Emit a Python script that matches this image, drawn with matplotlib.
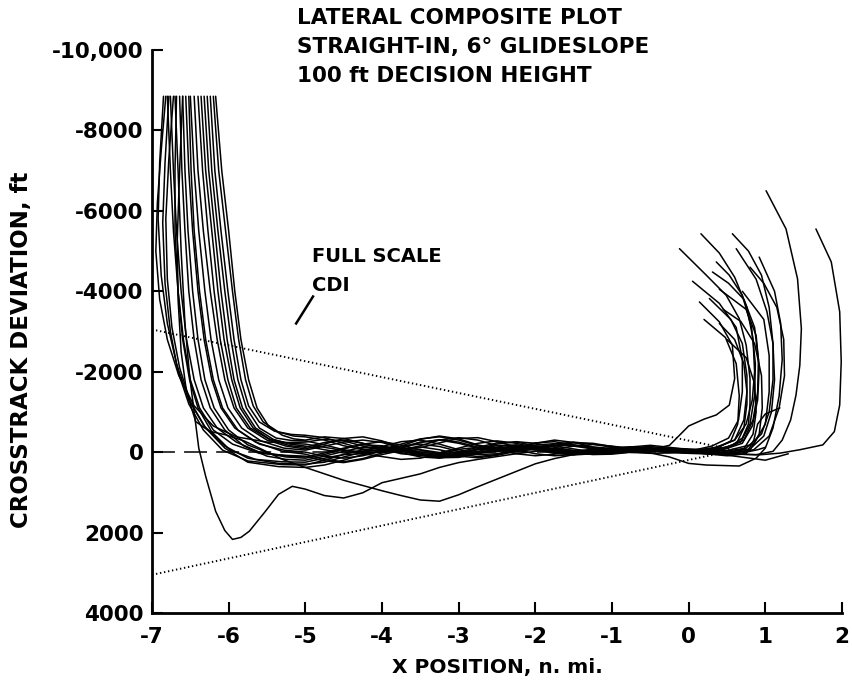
import matplotlib
matplotlib.use("Agg")
import matplotlib.pyplot as plt

# ---------------- data ----------------
x_ticks = [-7, -6, -5, -4, -3, -2, -1, 0, 1, 2]
x_tick_labels = ["-7", "-6", "-5", "-4", "-3", "-2", "-1", "0", "1", "2"]
y_ticks = [-10000, -8000, -6000, -4000, -2000, 0, 2000, 4000]
y_tick_labels = ["-10,000", "-8000", "-6000", "-4000", "-2000", "0", "2000", "4000"]

title_lines = ["LATERAL COMPOSITE PLOT", "STRAIGHT-IN, 6\u00b0 GLIDESLOPE", "100 ft DECISION HEIGHT"]

# full-scale CDI limits (x, y)
cdi_upper = [(-7.0, -3050), (0.6, -50)]
cdi_lower = [(-7.0, 3050), (0.6, -50)]
centerline = [(-7.0, 0), (0.6, 0)]
leader = [(-5.12, -3200), (-4.90, -3870)]

# common x grid of the tracking segment (n. mi.)
mid_x = [-5.0, -4.75, -4.5, -4.25, -4.0, -3.75, -3.5, -3.25, -3.0, -2.75, -2.5,
         -2.25, -2.0, -1.75, -1.5, -1.25, -1.0, -0.75, -0.5, -0.25, 0.0]

# ---- intercept (left) segments ----
left_01 = [(-6.82,-8850),(-6.88,-7500),(-6.93,-6200),(-6.95,-5000),(-6.90,-3800),(-6.80,-2800),(-6.65,-1900),(-6.45,-1150),(-6.20,-650),(-5.90,-380),(-5.50,-250),(-5.20,-240)]
left_02 = [(-6.70,-8850),(-6.66,-7000),(-6.62,-5000),(-6.57,-3200),(-6.51,-1900),(-6.45,-1000),(-6.39,-100),(-6.30,600),(-6.17,1470),(-6.05,1950),(-5.95,2170),(-5.84,2120),(-5.73,1965),(-5.52,1470),(-5.35,1050),(-5.17,850)]
left_03 = [(-6.60,-8850),(-6.64,-7000),(-6.67,-5300),(-6.66,-3800),(-6.62,-2500),(-6.55,-1500),(-6.43,-760),(-6.25,-520),(-6.04,-430),(-5.80,-280),(-5.60,-100),(-5.30,180),(-5.15,280)]
left_04 = [(-6.76,-8850),(-6.72,-7000),(-6.68,-5500),(-6.62,-4000),(-6.55,-2800),(-6.45,-1800),(-6.33,-1100),(-6.15,-600),(-5.90,-250),(-5.60,0),(-5.25,120)]
left_05 = [(-6.45,-8850),(-6.40,-7000),(-6.33,-5500),(-6.24,-4000),(-6.15,-2800),(-6.05,-1800),(-5.93,-1100),(-5.75,-600),(-5.50,-300),(-5.25,-150)]
left_06 = [(-6.85,-8850),(-6.90,-7200),(-6.92,-5800),(-6.88,-4400),(-6.80,-3200),(-6.68,-2200),(-6.52,-1300),(-6.32,-650),(-6.05,-150),(-5.75,150),(-5.35,280)]
left_07 = [(-6.20,-8850),(-6.13,-7000),(-6.04,-5500),(-5.95,-4000),(-5.87,-2800),(-5.78,-1800),(-5.68,-1150),(-5.55,-750),(-5.35,-500),(-5.15,-400)]
left_08 = [(-6.56,-8850),(-6.52,-7000),(-6.47,-5500),(-6.40,-4000),(-6.32,-2800),(-6.22,-1800),(-6.10,-1100),(-5.92,-600),(-5.65,-250),(-5.30,-20)]
left_09 = [(-6.32,-8850),(-6.26,-7000),(-6.18,-5500),(-6.10,-4000),(-6.02,-2800),(-5.93,-1800),(-5.82,-1100),(-5.65,-600),(-5.42,-320),(-5.20,-200)]
left_10 = [(-6.64,-8850),(-6.61,-7000),(-6.57,-5500),(-6.52,-4000),(-6.45,-2800),(-6.36,-1800),(-6.24,-1100),(-6.05,-550),(-5.80,-150),(-5.50,100),(-5.25,180)]
left_11 = [(-6.17,-8850),(-6.09,-7000),(-6.00,-5500),(-5.92,-4000),(-5.84,-2800),(-5.74,-1800),(-5.63,-1100),(-5.48,-650),(-5.30,-420),(-5.15,-330)]
left_12 = [(-6.80,-8850),(-6.76,-7000),(-6.72,-5500),(-6.66,-4000),(-6.59,-2800),(-6.50,-1800),(-6.38,-1100),(-6.20,-550),(-5.95,-200),(-5.60,30),(-5.25,80)]
left_13 = [(-6.40,-8850),(-6.34,-7000),(-6.27,-5500),(-6.19,-4000),(-6.11,-2800),(-6.01,-1800),(-5.90,-1100),(-5.72,-600),(-5.48,-330),(-5.22,-220)]
left_14 = [(-6.72,-8850),(-6.78,-7300),(-6.82,-5800),(-6.80,-4300),(-6.74,-3100),(-6.64,-2100),(-6.50,-1250),(-6.30,-600),(-6.05,-100),(-5.75,250),(-5.35,360)]
left_15 = [(-6.50,-8850),(-6.45,-7000),(-6.39,-5500),(-6.31,-4000),(-6.23,-2800),(-6.13,-1800),(-6.01,-1100),(-5.83,-600),(-5.58,-280),(-5.28,-100)]
left_16 = [(-6.68,-8850),(-6.70,-7000),(-6.70,-5500),(-6.66,-4000),(-6.60,-2800),(-6.51,-1800),(-6.40,-1100),(-6.22,-500),(-5.98,-50),(-5.65,180),(-5.30,240)]
left_17 = [(-6.24,-8850),(-6.18,-7000),(-6.10,-5500),(-6.01,-4000),(-5.93,-2800),(-5.84,-1800),(-5.74,-1150),(-5.60,-750),(-5.40,-520),(-5.18,-440)]
left_18 = [(-6.52,-8850),(-6.49,-7000),(-6.45,-5500),(-6.38,-4000),(-6.30,-2800),(-6.20,-1800),(-6.08,-1100),(-5.88,-550),(-5.60,-200),(-5.28,-50)]
left_19 = [(-6.36,-8850),(-6.30,-7000),(-6.22,-5500),(-6.14,-4000),(-6.06,-2800),(-5.96,-1800),(-5.85,-1100),(-5.68,-600),(-5.45,-300),(-5.20,-160)]
left_20 = [(-6.78,-8850),(-6.83,-7200),(-6.86,-5700),(-6.83,-4200),(-6.76,-3000),(-6.66,-2000),(-6.52,-1200),(-6.33,-550),(-6.08,-50),(-5.75,220),(-5.30,310)]
left_21 = [(-6.28,-8850),(-6.22,-7000),(-6.14,-5500),(-6.05,-4000),(-5.97,-2800),(-5.88,-1800),(-5.77,-1100),(-5.60,-600),(-5.38,-350),(-5.18,-290)]
left_22 = [(-6.60,-8850),(-6.57,-7000),(-6.53,-5500),(-6.47,-4000),(-6.40,-2800),(-6.31,-1800),(-6.19,-1100),(-6.00,-550),(-5.75,-180),(-5.45,40),(-5.22,100)]

# ---- tracking (middle) segments: crosstrack ft at mid_x ----
mid_01 = [-250,-320,-280,-150,-60,-120,-250,-300,-220,-100,-40,-90,-180,-210,-150,-80,-60,-110,-140,-90,-50]
mid_02 = [920,1080,1140,1010,760,650,540,380,260,180,110,40,-20,-60,-40,10,30,0,-30,-20,0]
mid_03 = [380,540,700,830,960,1080,1190,1220,1060,860,670,480,290,160,60,10,-10,-40,-40,-10,10]
mid_04 = [150,60,-80,-200,-260,-180,-50,40,80,20,-90,-170,-150,-60,10,30,-20,-80,-90,-40,0]
mid_05 = [-80,-200,-340,-380,-280,-120,0,60,0,-120,-230,-250,-160,-50,0,-30,-100,-130,-80,-30,10]
mid_06 = [300,250,120,0,-60,10,120,150,60,-60,-120,-60,40,90,60,0,-30,-10,30,20,-20]
mid_07 = [-380,-300,-160,-60,-40,-150,-320,-400,-330,-180,-80,-100,-220,-300,-240,-130,-90,-130,-170,-120,-60]
mid_08 = [50,180,240,160,20,-90,-130,-60,50,110,60,-50,-120,-90,-10,40,20,-40,-60,-30,-10]
mid_09 = [-150,-60,20,-20,-140,-260,-300,-200,-60,20,-10,-120,-230,-260,-180,-90,-50,-70,-100,-80,-40]
mid_10 = [200,100,-20,-120,-120,-30,80,120,40,-80,-160,-180,-90,0,40,10,-40,-70,-50,-10,20]
mid_11 = [-300,-380,-340,-220,-100,-60,-110,-230,-340,-360,-260,-130,-60,-80,-150,-190,-150,-90,-60,-170,-650]
mid_12 = [100,220,260,180,60,-40,-60,10,100,140,80,-20,-80,-60,10,60,50,0,-30,-20,0]
mid_13 = [-200,-120,-40,-10,-70,-200,-330,-380,-300,-160,-60,-40,-100,-200,-250,-200,-120,-80,-90,-70,-50]
mid_14 = [380,320,200,60,-30,-20,60,140,130,40,-60,-110,-80,0,50,40,-10,-40,-30,0,30]
mid_15 = [-50,-150,-250,-300,-240,-100,40,90,30,-80,-200,-260,-220,-120,-40,-20,-60,-110,-110,-60,-20]
mid_16 = [250,150,60,40,110,180,150,40,-70,-120,-60,40,90,50,-30,-70,-40,10,20,120,280]
mid_17 = [-420,-360,-220,-80,0,-40,-160,-300,-360,-300,-160,-60,-60,-150,-230,-220,-140,-80,-80,-100,-80]
mid_18 = [0,100,150,90,-30,-150,-200,-140,-20,60,40,-60,-150,-160,-80,0,20,-20,-50,-40,-10]
mid_19 = [-120,-240,-300,-220,-80,40,80,20,-100,-220,-280,-220,-110,-20,0,-50,-110,-120,-70,-20,0]
mid_20 = [320,200,60,-60,-120,-80,30,100,80,-20,-110,-130,-60,30,70,40,-20,-50,-30,10,20]
mid_21 = [-280,-180,-60,20,0,-100,-240,-310,-250,-120,-30,-20,-90,-170,-180,-120,-60,-50,-80,-70,-40]
mid_22 = [120,20,-100,-180,-160,-60,60,130,110,20,-80,-140,-120,-40,30,50,10,-40,-50,-20,10]

# ---- missed approach (right) segments ----
right_01 = [(0.25,10),(0.55,40),(0.88,65),(1.10,-20),(1.22,-300),(1.33,-800),(1.40,-1420),(1.45,-2160),(1.47,-3070),(1.42,-4310),(1.27,-5550),(1.01,-6500)]
right_02 = [(0.5,90),(0.75,40),(0.85,-300),(0.90,-700),(1.00,-950),(1.19,-1100)]
right_03 = [(0.4,50),(0.7,20),(0.9,-60),(1.0,-120)]
right_04 = [(0.25,20),(0.6,50),(0.93,65),(1.19,25),(1.45,-60),(1.75,-180),(1.90,-510),(1.97,-1170),(1.99,-2250),(1.97,-3490),(1.86,-4730),(1.66,-5550)]
right_05 = [(0.3,-60),(0.55,-150),(0.70,-350),(0.78,-700),(0.80,-1200),(0.80,-1830),(0.75,-2660),(0.66,-3320),(0.49,-3900),(0.23,-4400),(-0.12,-5060)]
right_06 = [(0.35,-120),(0.60,-300),(0.75,-700),(0.83,-1300),(0.86,-2000),(0.84,-2800),(0.76,-3600),(0.60,-4350),(0.40,-4950),(0.16,-5430)]
right_07 = [(0.4,0),(0.75,-100),(0.95,-450),(1.05,-1000),(1.10,-1800),(1.10,-2700),(1.05,-3600),(0.95,-4400),(0.78,-5000),(0.57,-5430)]
right_08 = [(0.45,20),(0.80,-80),(0.98,-400),(1.08,-1000),(1.12,-1800),(1.10,-2700),(1.02,-3500),(0.88,-4300),(0.62,-5060)]
right_09 = [(0.4,-70),(0.68,-250),(0.80,-700),(0.86,-1400),(0.87,-2200),(0.82,-3100),(0.70,-3900),(0.53,-4400),(0.36,-4730)]
right_10 = [(0.4,-40),(0.62,-200),(0.72,-600),(0.76,-1200),(0.76,-1900),(0.70,-2700),(0.55,-3300),(0.27,-3820)]
right_11 = [(0.2,-820),(0.36,-925),(0.53,-1170),(0.60,-1830),(0.57,-2660),(0.40,-3240),(0.14,-3735)]
right_12 = [(0.45,-90),(0.72,-300),(0.84,-800),(0.90,-1500),(0.91,-2300),(0.86,-3100),(0.72,-3800),(0.52,-4200),(0.31,-4480)]
right_13 = [(0.5,30),(0.85,-60),(1.05,-400),(1.18,-1100),(1.25,-1900),(1.24,-2800),(1.15,-3600),(0.98,-4200),(0.80,-4600)]
right_14 = [(0.5,60),(0.80,-50),(0.92,-450),(0.96,-1100),(0.95,-1900),(0.86,-2700),(0.68,-3250),(0.45,-3550)]
right_15 = [(0.3,-150),(0.52,-350),(0.65,-800),(0.70,-1500),(0.70,-2300),(0.62,-3100),(0.40,-3700),(0.05,-4250)]
right_16 = [(0.23,320),(0.66,345),(0.88,150),(1.0,-100),(1.10,-600),(1.18,-1400),(1.22,-2300),(1.20,-3200),(1.12,-4000),(0.92,-4850)]
right_17 = [(0.5,-40),(0.85,-200),(1.0,-700),(1.05,-1500),(1.05,-2400),(0.98,-3300),(0.70,-4000)]
right_18 = [(0.35,-100),(0.6,-300),(0.72,-800),(0.76,-1500),(0.72,-2200),(0.60,-2800),(0.40,-3200)]
right_19 = [(0.4,50),(0.8,150),(1.0,200),(1.15,120),(1.3,40)]
right_20 = [(0.35,-80),(0.55,-280),(0.64,-700),(0.66,-1400),(0.62,-2200),(0.48,-2850),(0.20,-3300)]
right_21 = [(0.45,30),(0.72,-80),(0.84,-450),(0.88,-1000),(0.86,-1700),(0.75,-2350),(0.50,-2800)]
right_22 = [(0.4,-30),(0.7,-220),(0.83,-650),(0.90,-1300),(0.92,-2100),(0.88,-2900),(0.75,-3550),(0.40,-4050)]

runs = [
    (left_01, mid_01, right_01), (left_02, mid_02, right_02), (left_03, mid_03, right_03),
    (left_04, mid_04, right_04), (left_05, mid_05, right_05), (left_06, mid_06, right_06),
    (left_07, mid_07, right_07), (left_08, mid_08, right_08), (left_09, mid_09, right_09),
    (left_10, mid_10, right_10), (left_11, mid_11, right_11), (left_12, mid_12, right_12),
    (left_13, mid_13, right_13), (left_14, mid_14, right_14), (left_15, mid_15, right_15),
    (left_16, mid_16, right_16), (left_17, mid_17, right_17), (left_18, mid_18, right_18),
    (left_19, mid_19, right_19), (left_20, mid_20, right_20), (left_21, mid_21, right_21),
    (left_22, mid_22, right_22),
]

# ---------------- figure ----------------
W, H = 852, 691
fig = plt.figure(figsize=(W / 100, H / 100), dpi=100)
ax = fig.add_axes([152 / W, 1 - 613 / H, 690 / W, 563 / H])

FONT = "DejaVu Sans"

for left, mid, right in runs:
    xs = [p[0] for p in left] + list(mid_x) + [p[0] for p in right]
    ys = [p[1] for p in left] + list(mid) + [p[1] for p in right]
    ax.plot(xs, ys, color="black", lw=1.1, solid_joinstyle="round", solid_capstyle="round")

ax.plot([p[0] for p in cdi_upper], [p[1] for p in cdi_upper], color="black", lw=1.4,
        linestyle=(0, (0.7, 1.4)))
ax.plot([p[0] for p in cdi_lower], [p[1] for p in cdi_lower], color="black", lw=1.4,
        linestyle=(0, (0.7, 1.4)))
ax.plot([p[0] for p in centerline], [p[1] for p in centerline], color="black", lw=1.1,
        linestyle=(0, (15, 6)))
ax.plot([p[0] for p in leader], [p[1] for p in leader], color="black", lw=1.8)

ax.text(-4.91, -4860, "FULL SCALE", fontsize=14, fontweight="bold", family=FONT,
        ha="left", va="center")
ax.text(-4.91, -4140, "CDI", fontsize=14, fontweight="bold", family=FONT,
        ha="left", va="center")

ax.set_xlim(-7, 2)
ax.set_ylim(4000, -10000)
ax.set_xticks(x_ticks)
ax.set_xticklabels(x_tick_labels)
ax.set_yticks(y_ticks)
ax.set_yticklabels(y_tick_labels)

for lab in ax.get_xticklabels() + ax.get_yticklabels():
    lab.set_fontfamily(FONT)
    lab.set_fontweight("bold")
    lab.set_fontsize(15.5)

ax.tick_params(axis="both", direction="in", length=8, width=1.5, color="black")
ax.tick_params(axis="x", pad=10)
ax.tick_params(axis="y", pad=6)

ax.spines["top"].set_visible(False)
ax.spines["right"].set_visible(False)
ax.spines["left"].set_linewidth(2.0)
ax.spines["bottom"].set_linewidth(2.0)

ax.set_xlabel("X POSITION, n. mi.", fontsize=14.5, fontweight="bold", family=FONT)
ax.set_ylabel("CROSSTRACK DEVIATION, ft", fontsize=16.5, fontweight="bold", family=FONT)
ax.xaxis.set_label_coords(0.5, (613 - 658) / 563)
ax.yaxis.set_label_coords((33 - 152) / 690, (613 - 350) / 563)

for i, line in enumerate(title_lines):
    yy = [18, 47, 76][i]
    fig.text(297 / W, 1 - yy / H, line, fontsize=15.5, fontweight="bold", family=FONT,
             ha="left", va="center")

fig.savefig("out.png", dpi=100)
